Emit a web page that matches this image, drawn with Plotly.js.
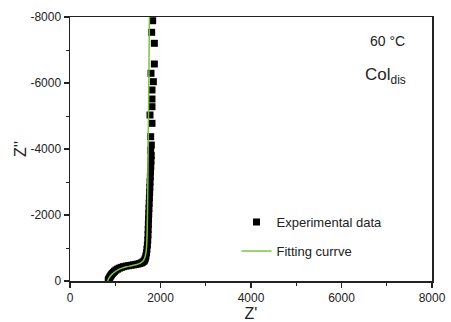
<!DOCTYPE html>
<html>
<head>
<meta charset="utf-8">
<script src="https://cdn.plot.ly/plotly-3.0.1.min.js"></script>
<style>html,body{margin:0;padding:0;background:#fff;}#chart{width:451px;height:322px;}</style>
</head>
<body>
<div id="chart"></div>
<script>
// Experimental data (Z', Z'')
var expZre = [845, 855, 868, 882, 898, 915, 935, 958, 985, 1015, 1050, 1090, 1135, 1185, 1240, 1295, 1350, 1405, 1455, 1500, 1540, 1575, 1605, 1630, 1650, 1665, 1678, 1690, 1700, 1710, 1718, 1724, 1728, 1732, 1736, 1740, 1745, 1750, 1755, 1760, 1765, 1770, 1775, 1780, 1785, 1790, 1795, 1783, 1797, 1783, 1768, 1812, 1812, 1812, 1812, 1790, 1864, 1842, 1864, 1805, 1827];
var expZim = [-15, -50, -85, -120, -155, -190, -225, -260, -295, -330, -360, -390, -415, -435, -452, -465, -478, -490, -502, -515, -530, -548, -570, -598, -635, -690, -760, -850, -960, -1090, -1240, -1400, -1560, -1720, -1880, -2040, -2200, -2360, -2520, -2680, -2840, -3000, -3160, -3320, -3480, -3640, -3800, -3960, -4120, -4373, -5030, -4778, -5282, -5515, -5788, -6294, -6576, -6040, -7203, -7536, -7888];
// Fitting curve (Z', Z'')
var fitZre = [830, 850, 880, 925, 985, 1060, 1150, 1250, 1350, 1450, 1530, 1590, 1635, 1665, 1685, 1697, 1705, 1712, 1720, 1730, 1742, 1755];
var fitZim = [0, -60, -130, -200, -270, -335, -390, -430, -460, -490, -525, -575, -650, -760, -920, -1150, -1500, -2000, -3000, -4500, -6000, -8000];
var xTicks = [0, 2000, 4000, 6000, 8000];
var yTicks = [0, -2000, -4000, -6000, -8000];

var font = 'Arial, "Liberation Sans", sans-serif';
var traces = [
  {x: expZre, y: expZim, mode: 'markers', type: 'scatter', name: 'Experimental data',
   legendgroup: 'a',
   marker: {symbol: 'square', size: 7, color: '#000'}},
  {x: fitZre, y: fitZim, mode: 'lines', type: 'scatter', name: 'Fitting currve',
   legendgroup: 'b',
   line: {color: '#7dc242', width: 1.5, shape: 'spline'}}
];
var axisCommon = {
  showgrid: false, zeroline: false, showline: true, linecolor: '#222', linewidth: 1.5,
  mirror: true, ticks: 'outside', ticklen: 5, tickwidth: 1.2, tickcolor: '#222',
  tickfont: {family: font, size: 12, color: '#222'},
  minor: {ticks: 'outside', ticklen: 3, tickwidth: 1, tickcolor: '#222', dtick: 1000}
};
var layout = {
  width: 451, height: 322,
  margin: {l: 70, r: 19, t: 17, b: 41},
  paper_bgcolor: '#fff', plot_bgcolor: '#fff',
  font: {family: font, color: '#222'},
  xaxis: Object.assign({}, axisCommon, {range: [0, 8000], tickvals: xTicks, ticktext: xTicks.map(String),
    title: {text: "Z'", font: {family: font, size: 16, color: '#222'}, standoff: 5}}),
  yaxis: Object.assign({}, axisCommon, {range: [0, -8000], tickvals: yTicks, ticktext: yTicks.map(String),
    title: {text: "Z''", font: {family: font, size: 16, color: '#222'}, standoff: 0}}),
  showlegend: true,
  legend: {x: 0.46, y: 0.28, xanchor: 'left', yanchor: 'top', bgcolor: 'rgba(0,0,0,0)',
    font: {family: font, size: 13, color: '#222'}, traceorder: 'grouped', tracegroupgap: 9},
  annotations: [
    {xref: 'paper', yref: 'paper', x: 0.93, y: 0.91, xanchor: 'right', yanchor: 'middle',
     text: '60 °C', showarrow: false, font: {family: font, size: 14, color: '#222'}},
    {xref: 'paper', yref: 'paper', x: 0.935, y: 0.775, xanchor: 'right', yanchor: 'middle',
     text: 'Col<sub>dis</sub>', showarrow: false, font: {family: font, size: 17, color: '#222'}}
  ]
};
Plotly.newPlot('chart', traces, layout, {displayModeBar: false, staticPlot: true});
</script>
</body>
</html>
